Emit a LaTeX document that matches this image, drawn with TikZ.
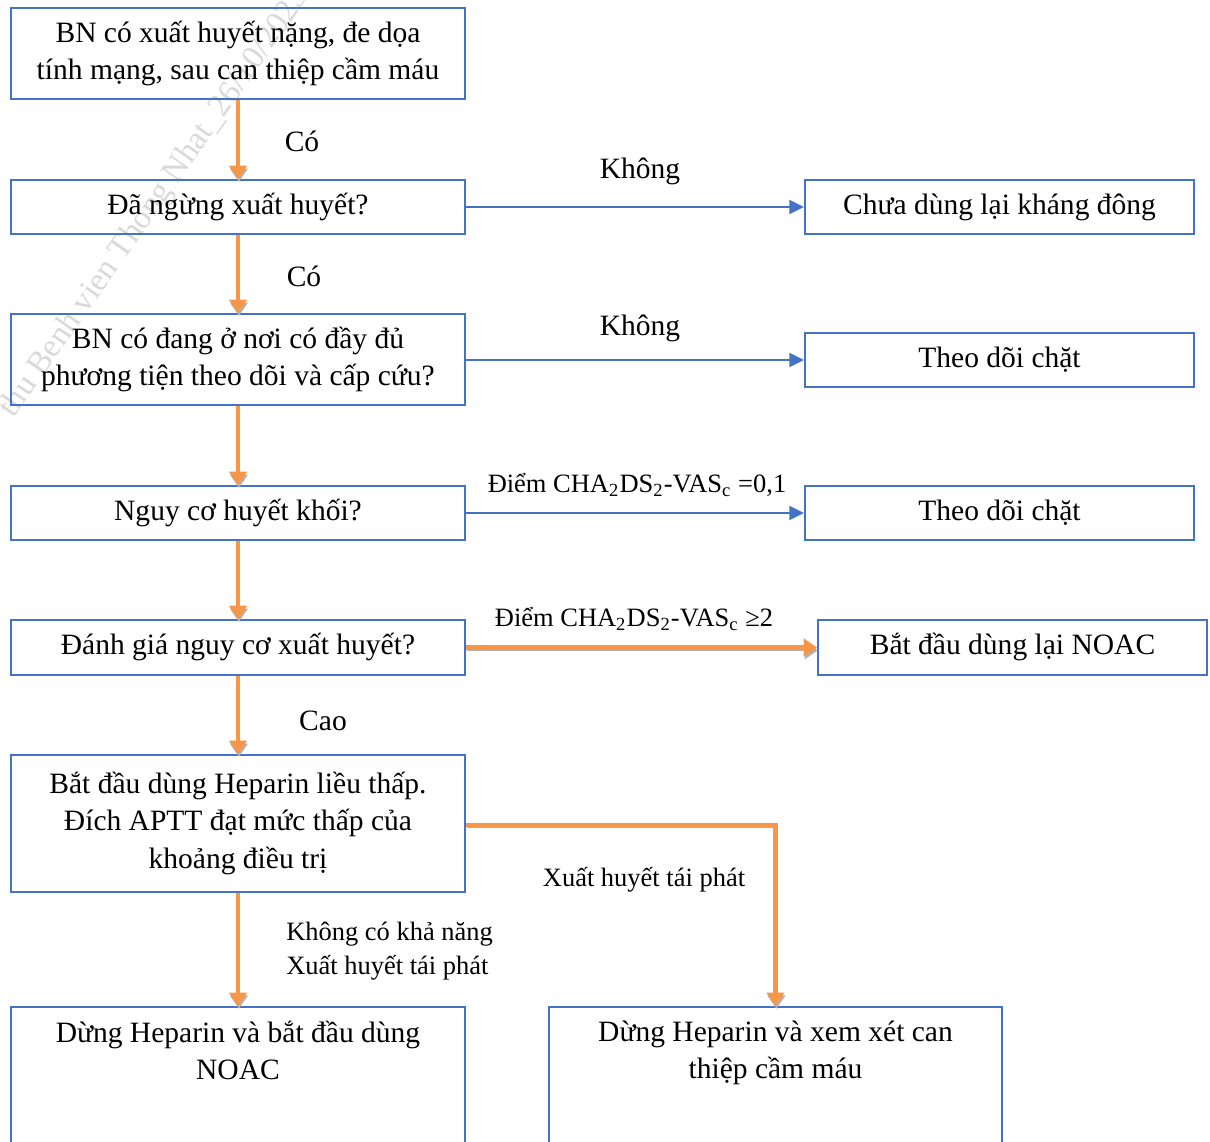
\documentclass[tikz,border=0pt]{standalone}
\usepackage{fontspec}
\setmainfont{Liberation Serif}
\usetikzlibrary{arrows.meta,positioning,calc}
\definecolor{boxblue}{RGB}{68,114,196}
\definecolor{arrorange}{RGB}{247,150,70}
\begin{document}
\begin{tikzpicture}[x=0.015cm, y=-0.015cm,
    box/.style={draw=boxblue, line width=0.8pt, align=center, inner sep=2pt,
        font=\fontsize{12.6}{15.8}\selectfont, minimum width=6.81cm},
    sidebox/.style={box, minimum width=5.835cm, minimum height=0.81cm},
    lab/.style={font=\fontsize{12.6}{15.8}\selectfont},
    smlab/.style={font=\fontsize{11.3}{14.5}\selectfont},
    yes/.style={draw=arrorange, line width=2.1pt,
        -{Triangle[width=0.26cm, length=0.2cm]},
        preaction={draw=gray!60, transform canvas={xshift=0.4pt, yshift=-1.2pt}}},
    no/.style={draw=boxblue, line width=0.9pt,
        -{Triangle[width=0.21cm, length=0.22cm]}}]
    \useasboundingbox (0,0) rectangle (1210,1142);

    % watermark
    \node[rotate=55, text=gray!30, font=\fontsize{14}{14}\selectfont] (wm) at (155,203)
        {thu Benh vien Thong Nhat\_26/10/2023};

    % left column
    \node[box, minimum height=1.365cm] (b1) at (238,53.5)
        {BN có xuất huyết nặng, đe dọa\\tính mạng, sau can thiệp cầm máu};
    \node[box, minimum height=0.81cm] (b2) at (238,207) {Đã ngừng xuất huyết?};
    \node[box, minimum height=1.365cm] (b3) at (238,359.5)
        {BN có đang ở nơi có đầy đủ\\phương tiện theo dõi và cấp cứu?};
    \node[box, minimum height=0.81cm] (b4) at (238,513) {Nguy cơ huyết khối?};
    \node[box, minimum height=0.825cm] (b5) at (238,647.5) {Đánh giá nguy cơ xuất huyết?};
    \node[box, minimum height=2.055cm] (b6) at (238,823.5)
        {Bắt đầu dùng Heparin liều thấp.\\Đích APTT đạt mức thấp của\\khoảng điều trị};
    \node[box, anchor=north, inner ysep=6pt] (b7) at (238,1006)
        {\parbox[t][2.6cm][t]{6.5cm}{\centering Dừng Heparin và bắt đầu dùng\\NOAC}};
    \node[box, anchor=north, inner ysep=6pt, minimum width=6.795cm] (b8) at (775.5,1006)
        {\parbox[t][2.6cm][t]{6.5cm}{\centering Dừng Heparin và xem xét can\\thiệp cầm máu}};

    % right column
    \node[sidebox] (r1) at (999.5,207) {Chưa dùng lại kháng đông};
    \node[sidebox] (r2) at (999.5,360) {Theo dõi chặt};
    \node[sidebox] (r3) at (999.5,513) {Theo dõi chặt};
    \node[sidebox, minimum height=0.825cm] (r4) at (1012.5,647.5) {Bắt đầu dùng lại NOAC};

    % connectors
    \draw[yes] (b1) -- (b2);
    \draw[yes] (b2) -- (b3);
    \draw[yes] (b3) -- (b4);
    \draw[yes] (b4) -- (b5);
    \draw[yes] (b5) -- (b6);
    \draw[yes] (b6) -- (b7);
    \draw[no] (b2) -- (r1);
    \draw[no] (b3.east |- r2) -- (r2);
    \draw[no] (b4) -- (r3);
    \draw[yes] (b5) -- (r4);
    \draw[yes] ($(b6.east)+(0,1.5)$) -| (b8.north);

    % labels
    \node[lab] (lc1) at (302,141) {Có};
    \node[lab] (lc2) at (304,276) {Có};
    \node[lab] (lk1) at (640,171) {Không};
    \node[lab] (lk2) at (640,328) {Không};
    \node[smlab] (ld1) at (637,485) {Điểm CHA\textsubscript{2}DS\textsubscript{2}-VAS\textsubscript{c} =0,1};
    \node[smlab] (ld2) at (634,619) {Điểm CHA\textsubscript{2}DS\textsubscript{2}-VAS\textsubscript{c} ≥2};
    \node[lab] (lcao) at (323,721) {Cao};
    \node[smlab] (lx) at (644,880) {Xuất huyết tái phát};
    \node[smlab, align=left, anchor=west] (lk3) at (278,951)
        {Không có khả năng\\Xuất huyết tái phát};
\end{tikzpicture}
\end{document}
